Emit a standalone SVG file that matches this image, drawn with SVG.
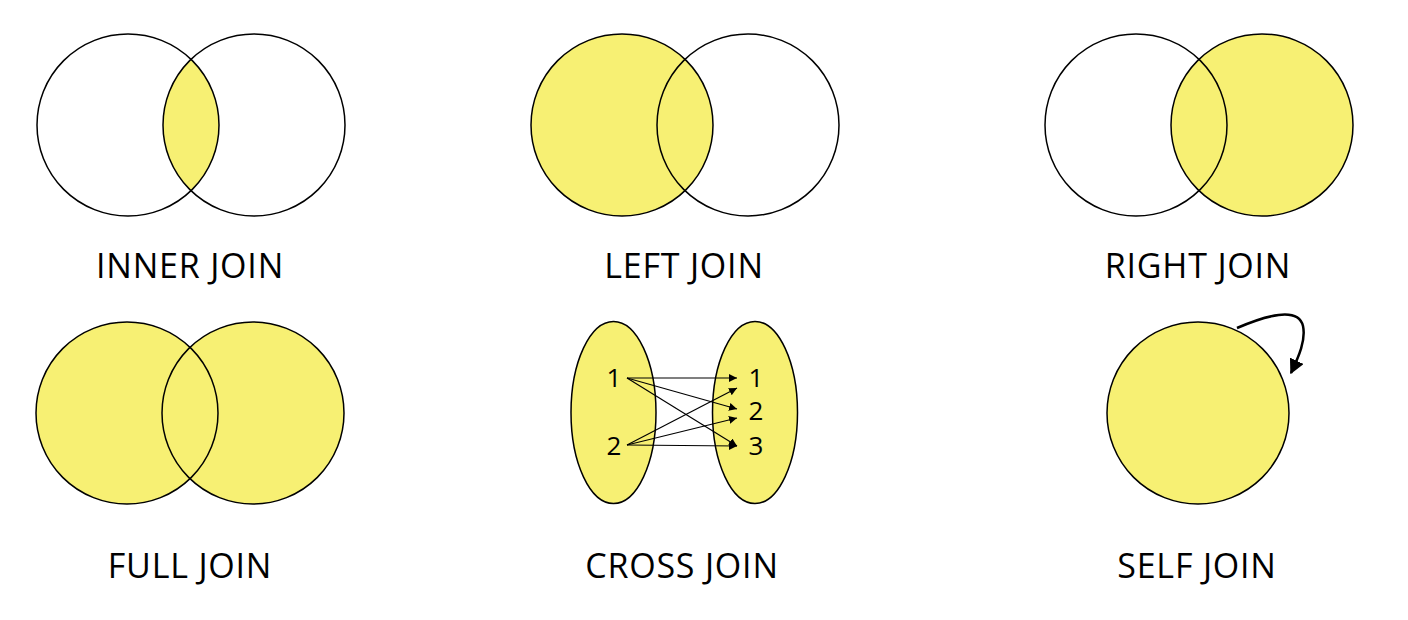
<svg xmlns="http://www.w3.org/2000/svg" width="1408" height="620" viewBox="0 0 1408 620">
<style>
.o{fill:none;stroke:#000;stroke-width:1.5}
.y{fill:#F7F073;stroke:none}
.yo{fill:#F7F073;stroke:#000;stroke-width:1.5}
.lbl{font-family:"Open Sans","Noto Sans",sans-serif;font-size:34px;letter-spacing:0.8px;fill:#000;text-anchor:middle}
.num{font-family:"Open Sans","Noto Sans",sans-serif;font-size:26px;fill:#000;text-anchor:middle}
.ar{fill:none;stroke:#000;stroke-width:1.2;marker-end:url(#ah)}
</style>
<defs>
<marker id="ah" viewBox="0 0 10 10" refX="10" refY="5" markerWidth="8" markerHeight="8" markerUnits="userSpaceOnUse" orient="auto"><path d="M0,0 L10,5 L0,10 z" fill="#000"/></marker>
<marker id="ah2" viewBox="0 0 10 10" refX="9" refY="5" markerWidth="15" markerHeight="15" markerUnits="userSpaceOnUse" orient="auto"><path d="M0,0 L10,5 L0,10 z" fill="#000"/></marker>
<clipPath id="cInner"><circle cx="128" cy="125" r="91"/></clipPath>
</defs>
<g id="inner-join">
<circle cx="254" cy="125" r="91" class="y" clip-path="url(#cInner)"/>
<circle cx="128" cy="125" r="91" class="o"/>
<circle cx="254" cy="125" r="91" class="o"/>
<text x="190" y="278" class="lbl">INNER JOIN</text>
</g>
<g id="left-join">
<circle cx="622" cy="125" r="91" class="yo"/>
<circle cx="748" cy="125" r="91" class="o"/>
<text x="684" y="278" class="lbl">LEFT JOIN</text>
</g>
<g id="right-join">
<circle cx="1262" cy="125" r="91" class="yo"/>
<circle cx="1136" cy="125" r="91" class="o"/>
<text x="1198" y="278" class="lbl">RIGHT JOIN</text>
</g>
<g id="full-join">
<circle cx="127" cy="413" r="91" class="y"/>
<circle cx="253" cy="413" r="91" class="y"/>
<circle cx="127" cy="413" r="91" class="o"/>
<circle cx="253" cy="413" r="91" class="o"/>
<text x="190" y="578" class="lbl">FULL JOIN</text>
</g>
<g id="cross-join">
<ellipse cx="613.5" cy="412.5" rx="42.5" ry="91" class="yo"/>
<ellipse cx="755" cy="412.5" rx="42.5" ry="91" class="yo"/>
<text x="614" y="387" class="num">1</text>
<text x="614" y="455" class="num">2</text>
<text x="756" y="387" class="num">1</text>
<text x="756" y="420" class="num">2</text>
<text x="756" y="455" class="num">3</text>
<text x="682" y="578" class="lbl">CROSS JOIN</text>
</g>
<g id="self-join">
<circle cx="1198" cy="413" r="91" class="yo"/>
<text x="1197" y="578" class="lbl">SELF JOIN</text>
</g>
<g id="connectors">
<line x1="627" y1="378" x2="737" y2="378" class="ar"/>
<line x1="627" y1="378" x2="737" y2="409" class="ar"/>
<line x1="627" y1="378" x2="737" y2="446" class="ar"/>
<line x1="627" y1="445" x2="737" y2="388" class="ar"/>
<line x1="627" y1="445" x2="737" y2="418" class="ar"/>
<line x1="627" y1="445" x2="737" y2="446" class="ar"/>
<path d="M1237,328 C1265,316 1298,306 1303,326 C1306,340 1299,356 1291,373" fill="none" stroke="#000" stroke-width="2.5" marker-end="url(#ah2)"/>
</g>
</svg>
